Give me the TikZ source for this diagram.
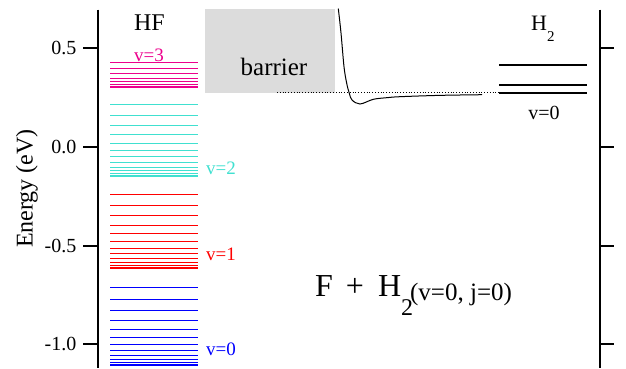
\documentclass[tikz,border=0pt]{standalone}
\usepackage{fontspec}
\setmainfont{Liberation Serif}
\usepackage{xcolor}
\usepackage{tikz}
\definecolor{hfturq}{RGB}{64,224,208}
\definecolor{barriergray}{RGB}{220,220,220}

\begin{document}
\begin{tikzpicture}[x=1pt, y=197.5pt,
    axisline/.style={line width=2pt},
    ticklabel/.style={anchor=east, inner sep=0pt, font=\fontsize{20}{22}\selectfont},
    hflevel/.style={line width=1pt},
    htwolevel/.style={line width=1.9pt},
    vlabel/.style={anchor=west, inner sep=0pt, font=\fontsize{19}{21}\selectfont}]
    \useasboundingbox (0,-1.12) rectangle (626,0.7433);
    \fill[barriergray] (205,0.2735) rectangle (335,0.6977);
    \node[anchor=base, inner sep=0pt, font=\fontsize{25}{27}\selectfont] (barrier) at (274,0.3635) {barrier};
    \draw[axisline] (97.7,0.695) -- (97.7,-1.12);
    \draw[axisline] (600,0.695) -- (600,-1.12);
    \foreach \e/\lab [count=\i] in {0.5/0.5, 0/0.0, -0.5/-0.5, -1/-1.0} {
      \draw[axisline] (83,\e) -- (97.7,\e);
      \draw[axisline] (600,\e) -- (614,\e);
      \node[ticklabel] (tick\i) at (76.5,\e) {\lab};
    }
    \node[rotate=90, anchor=base, inner sep=0pt, font=\fontsize{24}{26}\selectfont] (ylabel) at (32.7,-0.211) {Energy (eV)};
    \foreach \ev/\bv/\jmax/\col in {-1.106/0.0025488/12/blue, -0.616/0.0024533/12/red, -0.150/0.0023599/12/hfturq, 0.301/0.0022677/7/magenta} {
      \draw[hflevel, \col] \foreach \j in {0,...,\jmax} {
        (110,{\ev+\bv*\j*(\j+1)-0.26*(\j*(\j+1)/1000)^2}) -- (198,{\ev+\bv*\j*(\j+1)-0.26*(\j*(\j+1)/1000)^2})
      };
    }
    \node[anchor=center, inner sep=0pt, font=\fontsize{24}{26}\selectfont] (hf) at (149.5,0.628) {HF};
    \node[vlabel, anchor=center, text=magenta] (vthree) at (149,0.4638) {v=3};
    \node[vlabel, text=hfturq] (vtwo) at (206,-0.110) {v=2};
    \node[vlabel, text=red] (vone) at (206,-0.543) {v=1};
    \node[vlabel, text=blue] (vzero) at (206,-1.024) {v=0};
    \draw[dotted, line width=0.8pt] (277,0.2735) -- (499,0.2735);
    \draw[line width=1pt] plot[smooth, tension=0.55] coordinates {(338.3,0.700) (341,0.5762) (344,0.4056) (346.7,0.3215) (349.3,0.2709) (352,0.2370) (360,0.2167) (373.3,0.2405) (386.7,0.2486) (400,0.2537) (440,0.2605) (482,0.2638)};
    \foreach \e in {0.2720, 0.3129, 0.4142} {
      \draw[htwolevel] (499,\e) -- (587,\e);
    }
    \node[anchor=base west, inner sep=0pt, font=\fontsize{22}{24}\selectfont] (htwo) at (531,0.5914) {H\raisebox{-11pt}{\fontsize{15}{17}\selectfont 2}};
    \node[anchor=center, inner sep=0pt, font=\fontsize{20}{22}\selectfont] (htwovzero) at (544,0.1737) {v=0};
    \node[anchor=base west, inner sep=0pt, font=\fontsize{32}{35}\selectfont] (reactants) at (315,-0.759) {%
      F\hspace{13pt}+\hspace{14pt}H\raisebox{-19pt}{\fontsize{24}{26}\selectfont 2}%
      \hspace{-3pt}\raisebox{-3.5pt}{\fontsize{25}{28}\selectfont (v=0, j=0)}};
  \end{tikzpicture}
\end{document}
